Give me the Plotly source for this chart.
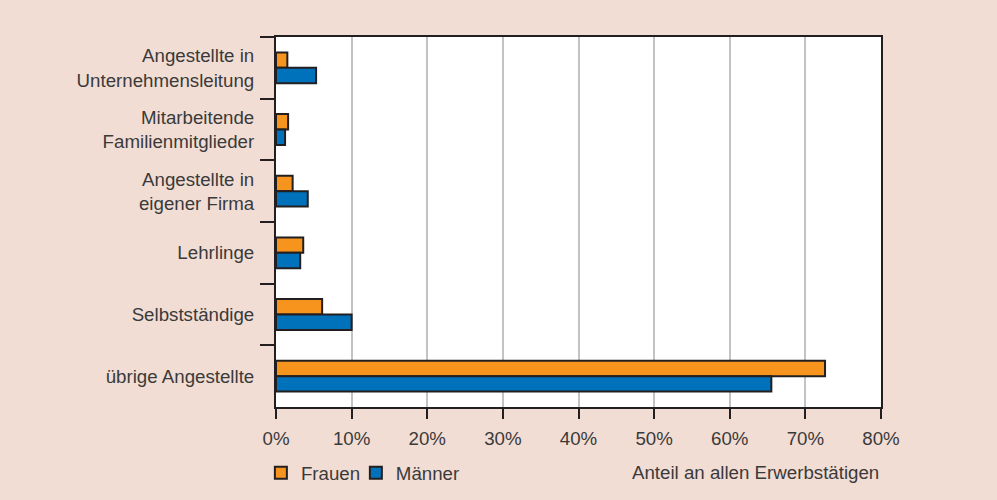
import plotly.graph_objects as go

categories = [
    "Angestellte in<br>Unternehmensleitung",
    "Mitarbeitende<br>Familienmitglieder",
    "Angestellte in<br>eigener Firma",
    "Lehrlinge",
    "Selbstständige",
    "übrige Angestellte",
]
frauen = [1.5, 1.6, 2.2, 3.6, 6.1, 72.6]
maenner = [5.3, 1.2, 4.2, 3.2, 10.0, 65.5]
x_ticks = [0, 10, 20, 30, 40, 50, 60, 70, 80]
x_labels = ["%d%%" % v for v in x_ticks]

bg = "#f2ddd4"
dark = "#231f20"
txt = "#3a3a3a"
fsize = 18.7

fig = go.Figure()
fig.add_trace(go.Bar(
    y=categories, x=frauen, name="Frauen", orientation="h", legend="legend",
    marker=dict(color="#f7941d", line=dict(color=dark, width=2)),
))
fig.add_trace(go.Bar(
    y=categories, x=maenner, name="Männer", orientation="h", legend="legend2",
    marker=dict(color="#0071bb", line=dict(color=dark, width=2)),
))

leg = dict(orientation="h", y=0.054, xanchor="left", yanchor="middle",
           yref="container", bgcolor="rgba(0,0,0,0)",
           font=dict(size=fsize), itemwidth=30)

fig.update_layout(
    width=997, height=500,
    paper_bgcolor=bg, plot_bgcolor="white",
    margin=dict(l=276, r=116, t=37, b=93, autoexpand=False),
    barmode="group", bargap=0.5, bargroupgap=0,
    font=dict(family="Liberation Sans, Arial, sans-serif", size=fsize, color=txt),
    showlegend=True,
    legend=dict(leg, x=-0.025),
    legend2=dict(leg, x=0.132),
    xaxis=dict(
        range=[0, 80], tickvals=x_ticks, ticktext=x_labels,
        showgrid=True, gridcolor="#c3c3c6", gridwidth=2,
        ticks="outside", ticklen=10, tickwidth=2, tickcolor=dark,
        ticklabelstandoff=4, automargin=False,
        showline=True, linecolor=dark, linewidth=2, mirror=True,
        zeroline=False, fixedrange=True,
    ),
    yaxis=dict(
        autorange="reversed", tickson="boundaries",
        ticks="outside", ticklen=14, tickwidth=2, tickcolor=dark,
        ticklabelstandoff=16, automargin=False,
        showline=True, linecolor=dark, linewidth=2, mirror=True,
        showgrid=False, fixedrange=True,
    ),
    annotations=[dict(
        text="Anteil an allen Erwerbstätigen", x=1, y=-0.178,
        xref="paper", yref="paper", xanchor="right", yanchor="middle",
        showarrow=False, font=dict(size=fsize, color=txt),
    )],
)

fig.write_html("out.html", config={"displayModeBar": False},
               post_script="document.body.style.margin='0';")
